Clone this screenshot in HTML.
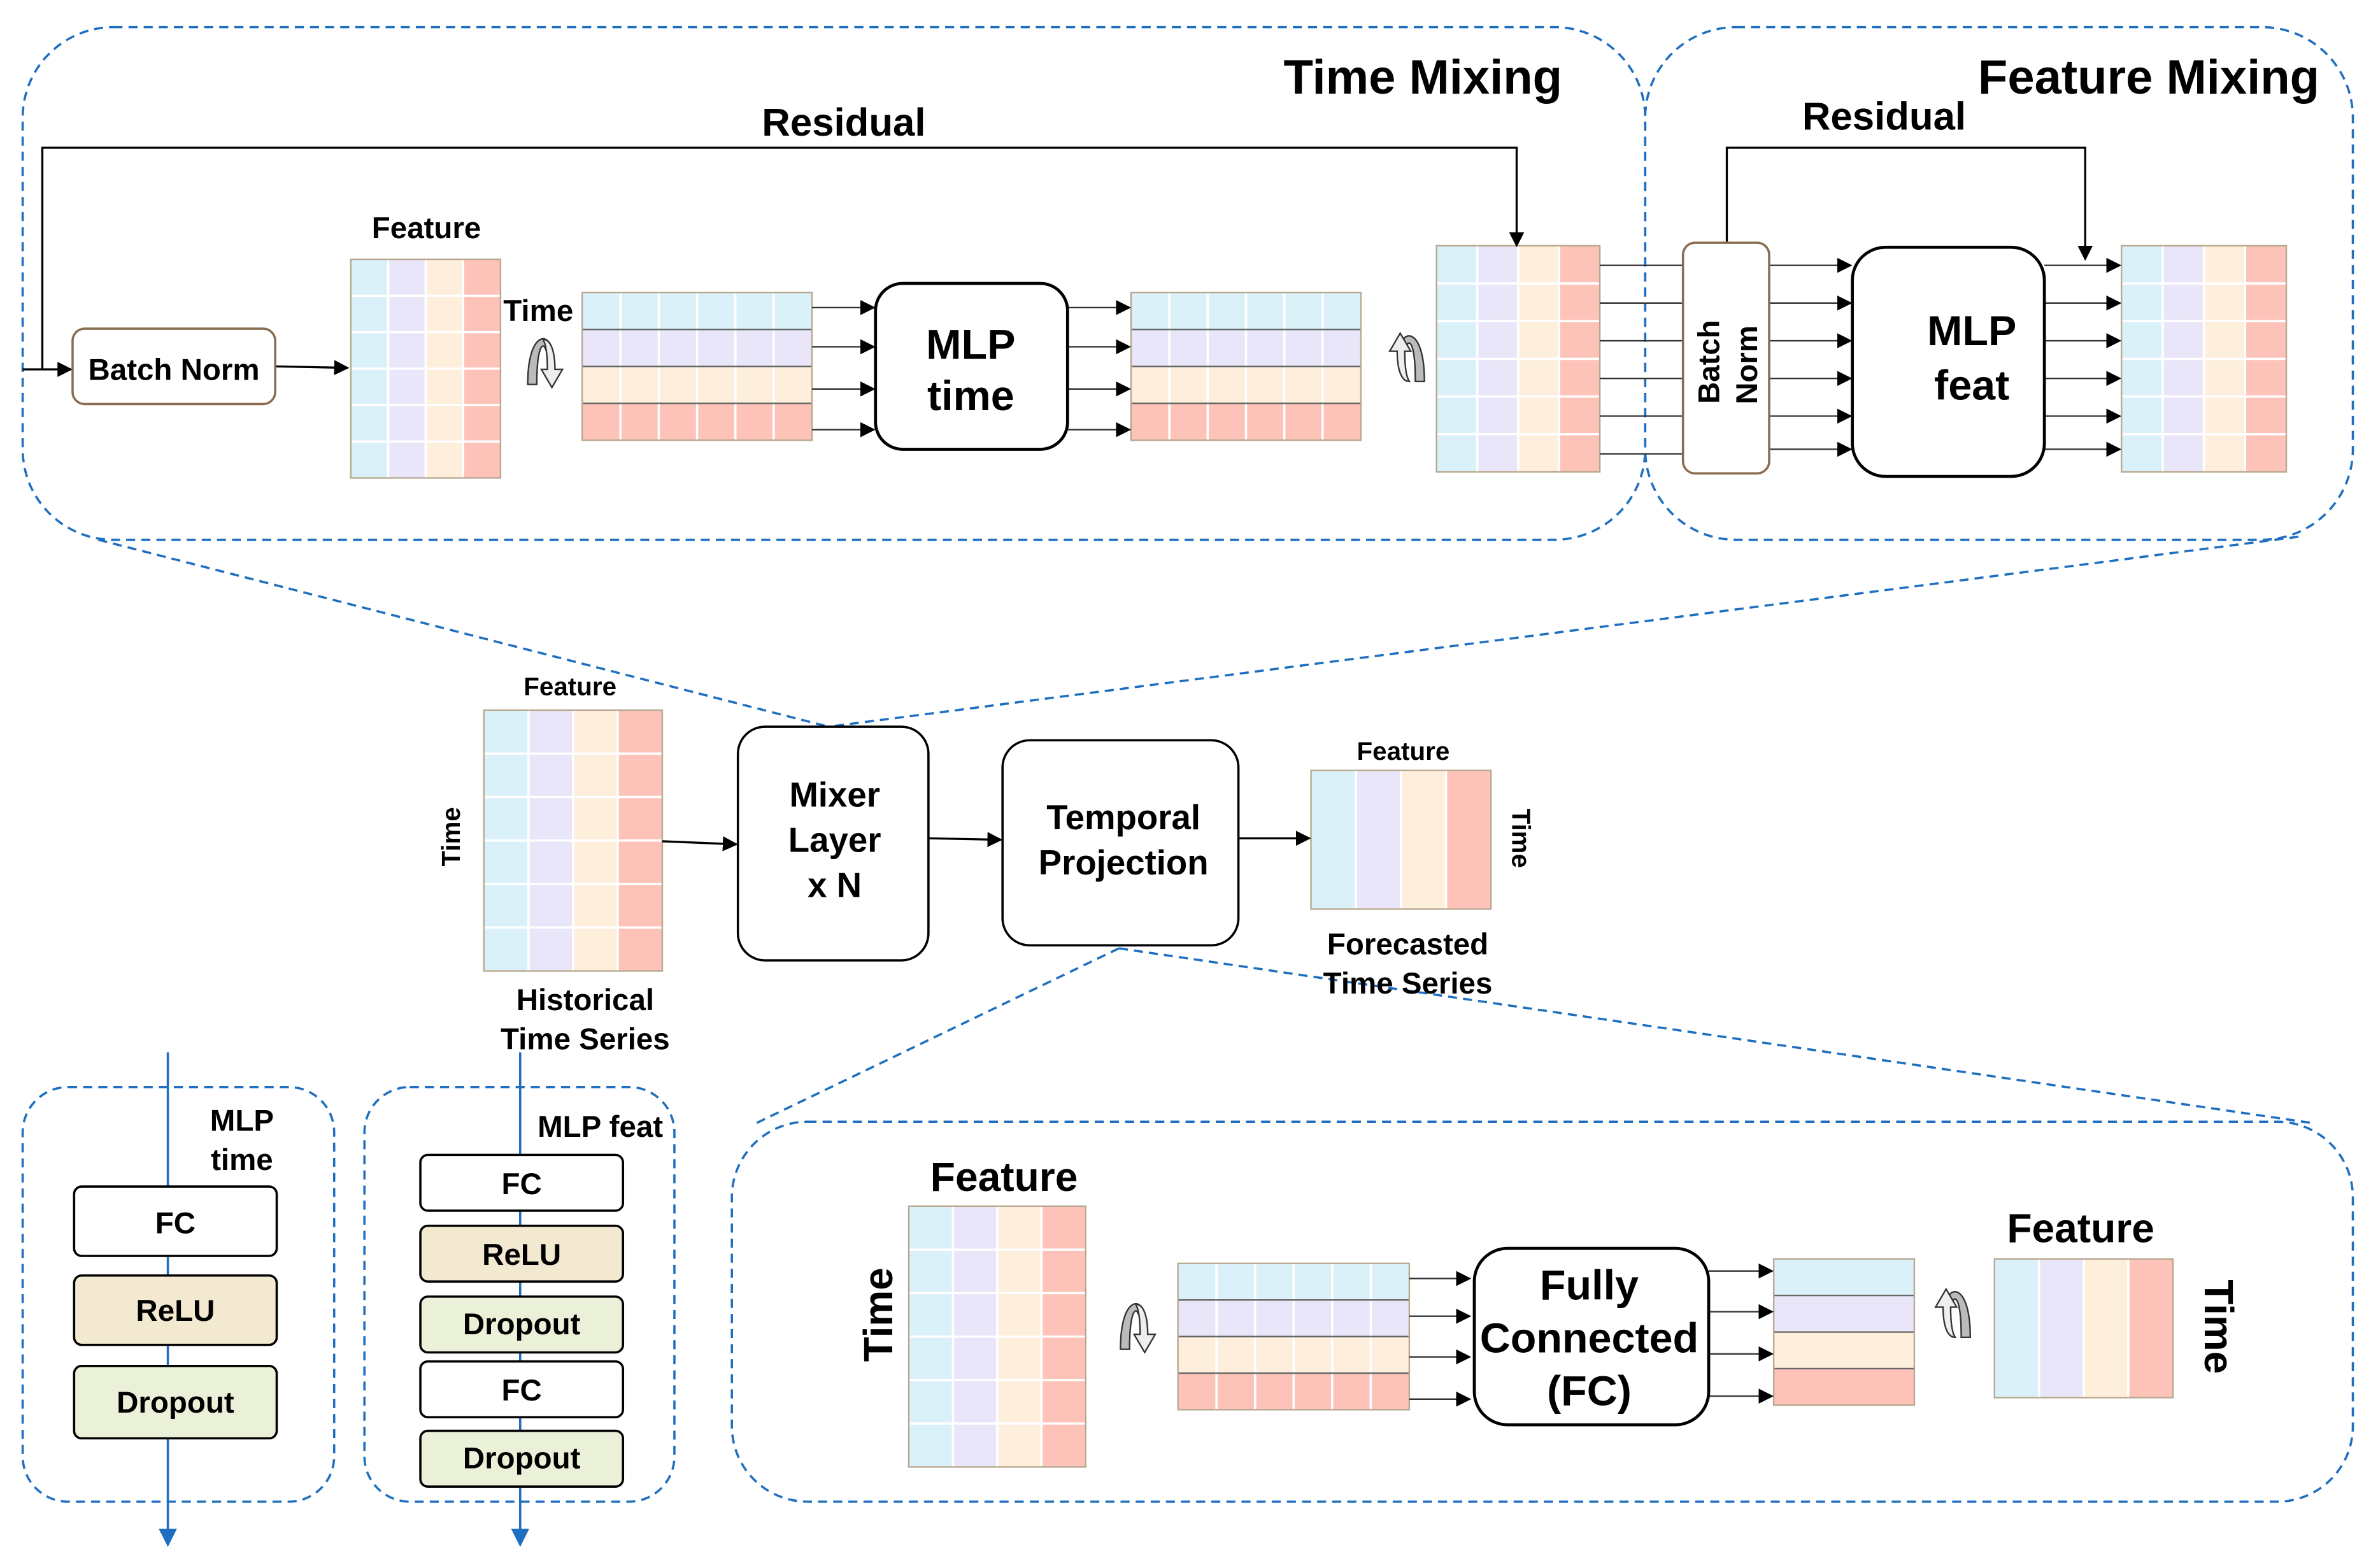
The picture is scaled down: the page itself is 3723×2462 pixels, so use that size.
<!DOCTYPE html>
<html><head><meta charset="utf-8"><style>html,body{margin:0;padding:0;background:#fff}svg{display:block}</style></head><body>
<svg id="s" width="3723" height="2462" viewBox="0 0 1568 1040" preserveAspectRatio="none" xmlns="http://www.w3.org/2000/svg" font-family="Liberation Sans, Arial, sans-serif" font-weight="bold">
<defs><marker id="a" markerWidth="10" markerHeight="10" refX="9" refY="5" orient="auto" markerUnits="userSpaceOnUse"><path d="M0,0 L10,5 L0,10 z" fill="#000"/></marker>
<marker id="b" markerWidth="12" markerHeight="12" refX="10" refY="6" orient="auto" markerUnits="userSpaceOnUse"><path d="M0,0 L12,6 L0,12 z" fill="#1f6fc0"/></marker></defs>
<g fill="none" stroke="#1f6fc0" stroke-width="1.5" stroke-dasharray="6,4">
<rect x="15" y="18" width="1073" height="340" rx="60"/>
<rect x="1088" y="18" width="468" height="340" rx="60"/>
<rect x="484" y="744" width="1072" height="252" rx="50"/>
<rect x="15" y="721" width="206" height="275" rx="30"/>
<rect x="241" y="721" width="205" height="275" rx="30"/>
<line x1="65" y1="358" x2="548" y2="482"/><line x1="1520" y1="356" x2="548" y2="482"/>
<line x1="740" y1="629" x2="500" y2="745"/><line x1="740" y1="629" x2="1530" y2="745"/>
</g>
<g id="grids"></g>
<g stroke="#000" stroke-width="1.4" fill="none">
<polyline points="28,245 28,98 1003,98 1003,163" marker-end="url(#a)"/>
<line x1="15" y1="245" x2="47" y2="245" marker-end="url(#a)"/>
<line x1="182" y1="243" x2="230" y2="244" marker-end="url(#a)"/>
<polyline points="1142,161 1142,98 1379,98 1379,172" marker-end="url(#a)"/>
<line x1="438" y1="558" x2="487" y2="560" marker-end="url(#a)"/>
<line x1="614" y1="556" x2="662" y2="557" marker-end="url(#a)"/>
<line x1="819" y1="556" x2="866" y2="556" marker-end="url(#a)"/>
</g>
<g id="arr" stroke="#333" stroke-width="1" fill="none"></g>
<g stroke="#000" stroke-width="1.5" fill="#fff">
<rect x="48" y="218" width="134" height="50" rx="8" stroke="#8a6d50"/>
<rect x="579" y="188" width="127" height="110" rx="18" stroke-width="2"/>
<rect x="1113" y="161" width="57" height="153" rx="8" stroke="#8a6d50"/>
<rect x="1225" y="164" width="127" height="152" rx="22" stroke-width="2"/>
<rect x="488" y="482" width="126" height="155" rx="18"/>
<rect x="663" y="491" width="156" height="136" rx="18"/>
<rect x="975" y="828" width="155" height="117" rx="22" stroke-width="2"/>
<line x1="111" y1="698" x2="111" y2="1024" stroke="#1f6fc0" marker-end="url(#b)"/>
<line x1="344" y1="698" x2="344" y2="1024" stroke="#1f6fc0" marker-end="url(#b)"/>
<rect x="49" y="787" width="134" height="46" rx="5"/>
<rect x="49" y="846" width="134" height="46" rx="5" fill="#f3e9d0"/>
<rect x="49" y="906" width="134" height="48" rx="5" fill="#ebf1d8"/>
<rect x="278" y="766" width="134" height="37" rx="5"/>
<rect x="278" y="813" width="134" height="37" rx="5" fill="#f3e9d0"/>
<rect x="278" y="860" width="134" height="37" rx="5" fill="#ebf1d8"/>
<rect x="278" y="903" width="134" height="37" rx="5"/>
<rect x="278" y="949" width="134" height="37" rx="5" fill="#ebf1d8"/>
</g>
<g fill="#000" text-anchor="middle">
<text x="941" y="62" font-size="32">Time Mixing</text>
<text x="1421" y="62" font-size="32">Feature Mixing</text>
<text x="558" y="90" font-size="26">Residual</text>
<text x="1246" y="86" font-size="26">Residual</text>
<text x="115" y="252" font-size="20">Batch Norm</text>
<text x="282" y="158" font-size="20">Feature</text>
<text x="356" y="213" font-size="20">Time</text>
<text x="642" y="238" font-size="28">MLP</text><text x="642" y="272" font-size="28">time</text>
<text x="1304" y="229" font-size="28">MLP</text><text x="1304" y="265" font-size="28">feat</text>
<text transform="translate(1137,240) rotate(-90)" font-size="20">Batch</text>
<text transform="translate(1162,242) rotate(-90)" font-size="20">Norm</text>
<text x="377" y="461" font-size="17">Feature</text>
<text transform="translate(304,555) rotate(-90)" font-size="17">Time</text>
<text x="552" y="535" font-size="23">Mixer</text><text x="552" y="565" font-size="23">Layer</text><text x="552" y="595" font-size="23">x N</text>
<text x="743" y="550" font-size="23">Temporal</text><text x="743" y="580" font-size="23">Projection</text>
<text x="928" y="504" font-size="17">Feature</text>
<text transform="translate(1000,556) rotate(90)" font-size="17">Time</text>
<text x="931" y="633" font-size="20">Forecasted</text><text x="931" y="659" font-size="20">Time Series</text>
<text x="387" y="670" font-size="20">Historical</text><text x="387" y="696" font-size="20">Time Series</text>
<text x="664" y="790" font-size="27">Feature</text>
<text transform="translate(590,872) rotate(-90)" font-size="27">Time</text>
<text x="1051" y="862" font-size="28">Fully</text><text x="1051" y="897" font-size="28">Connected</text><text x="1051" y="932" font-size="28">(FC)</text>
<text x="1376" y="824" font-size="27">Feature</text>
<text transform="translate(1458,880) rotate(90)" font-size="27">Time</text>
<text x="160" y="750" font-size="20">MLP</text><text x="160" y="776" font-size="20">time</text>
<text x="116" y="818" font-size="20">FC</text><text x="116" y="876" font-size="20">ReLU</text><text x="116" y="937" font-size="20">Dropout</text>
<text x="397" y="754" font-size="20">MLP feat</text>
<text x="345" y="792" font-size="20">FC</text><text x="345" y="839" font-size="20">ReLU</text><text x="345" y="885" font-size="20">Dropout</text>
<text x="345" y="929" font-size="20">FC</text><text x="345" y="974" font-size="20">Dropout</text>
</g>
<g id="rot" stroke="#333" stroke-width="1"></g>
</svg>
<script>
var C=["#dbf1fa","#e8e6f8","#feeedc","#fdc3b8"],NS="http://www.w3.org/2000/svg";
function el(p,t,a){var e=document.createElementNS(NS,t);for(var k in a)e.setAttribute(k,a[k]);document.getElementById(p).appendChild(e);return e;}
function colGrid(x,y,w,h,rows){var cw=w/4;for(var i=0;i<4;i++)el("grids","rect",{x:x+i*cw,y:y,width:cw,height:h,fill:C[i]});
for(var i=1;i<4;i++)el("grids","line",{x1:x+i*cw,y1:y,x2:x+i*cw,y2:y+h,stroke:"#fff","stroke-width":1.5});
for(var j=1;j<rows;j++)el("grids","line",{x1:x,y1:y+j*h/rows,x2:x+w,y2:y+j*h/rows,stroke:"#fff","stroke-width":1.5});
el("grids","rect",{x:x,y:y,width:w,height:h,fill:"none",stroke:"#b8a890","stroke-width":1});}
function rowGrid(x,y,w,h,cols){var rh=h/4;for(var i=0;i<4;i++)el("grids","rect",{x:x,y:y+i*rh,width:w,height:rh,fill:C[i]});
for(var i=1;i<cols;i++)el("grids","line",{x1:x+i*w/cols,y1:y,x2:x+i*w/cols,y2:y+h,stroke:"#fff","stroke-width":1.5});
for(var j=1;j<4;j++)el("grids","line",{x1:x,y1:y+j*rh,x2:x+w,y2:y+j*rh,stroke:"#666","stroke-width":1});
el("grids","rect",{x:x,y:y,width:w,height:h,fill:"none",stroke:"#b8a890","stroke-width":1});}
colGrid(232,172,99,145,6);rowGrid(385,194,152,98,6);rowGrid(748,194,152,98,6);
colGrid(950,163,108,150,6);colGrid(1403,163,109,150,6);colGrid(320,471,118,173,6);
colGrid(867,511,119,92,1);colGrid(601,800,117,173,6);rowGrid(779,838,153,97,6);
rowGrid(1173,835,93,97,1);colGrid(1319,835,118,92,1);
function arrs(x1,x2,ys,head){ys.forEach(function(y){el("arr","line",{x1:x1,y1:y,x2:x2,y2:y,"marker-end":head?"url(#a)":""});});}
arrs(537,578,[204,230,258,285],1);arrs(706,747,[204,230,258,285],1);
arrs(1058,1113,[176,201,226,251,276,301],0);arrs(1170,1224,[176,201,226,251,276,298],1);
arrs(1352,1402,[176,201,226,251,276,298],1);
arrs(932,972,[848,873,900,928],1);arrs(1130,1172,[843,870,898,926],1);
function rot(x,y,up){var s=up?-1:1;
el("rot","path",{d:"M"+(x-12)+","+(y+15)+" C"+(x-12)+","+(y-20)+" "+(x+2)+","+(y-20)+" "+(x+4)+","+(y-8)+" L"+(x)+","+(y-8)+" C"+(x-2)+","+(y-14)+" "+(x-6)+","+(y-10)+" "+(x-6)+","+(y+15)+" z",fill:"#bbb",transform:up?"translate("+(2*x)+",0) scale(-1,1)":""});
el("rot","path",{d:"M"+(x-2)+","+(y-15)+" C"+(x+4)+","+(y-15)+" "+(x+6)+","+(y-5)+" "+(x+6)+","+(y+5)+" L"+(x+11)+","+(y+5)+" L"+(x+4)+","+(y+17)+" L"+(x-3)+","+(y+5)+" L"+(x+1)+","+(y+5)+" C"+(x+1)+","+(y-5)+" "+(x)+","+(y-12)+" "+(x-2)+","+(y-15)+" z",fill:"#eee",transform:up?"translate("+(2*x)+","+(2*y)+") scale(-1,-1)":""});}
rot(361,240,0);rot(930,238,1);rot(753,880,0);rot(1291,872,1);
</script>
</body></html>
